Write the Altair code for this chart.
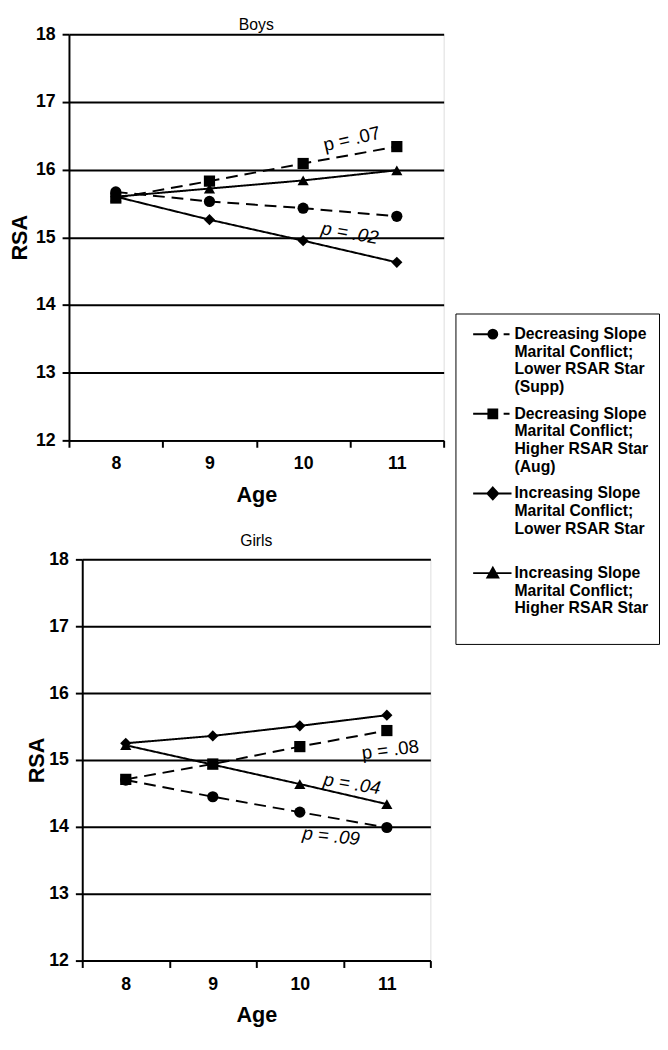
import altair as alt
import pandas as pd

# ---------------- data ----------------
ages = [8, 9, 10, 11]
series = [
    "Decreasing Slope|Marital Conflict;|Lower RSAR Star|(Supp)",
    "Decreasing Slope|Marital Conflict;|Higher RSAR Star|(Aug)",
    "Increasing Slope|Marital Conflict;|Lower RSAR Star| ",
    "Increasing Slope|Marital Conflict;|Higher RSAR Star| ",
]
boys_dec_lower = [15.67, 15.53, 15.43, 15.31]
boys_dec_higher = [15.58, 15.83, 16.09, 16.34]
boys_inc_lower = [15.60, 15.26, 14.95, 14.63]
boys_inc_higher = [15.60, 15.72, 15.84, 15.99]

girls_dec_lower = [14.70, 14.45, 14.22, 13.99]
girls_dec_higher = [14.71, 14.94, 15.20, 15.44]
girls_inc_lower = [15.25, 15.36, 15.51, 15.67]
girls_inc_higher = [15.22, 14.93, 14.64, 14.34]

boys_p_text = ["p = .07", "p = .02"]
boys_p_age = [10.52, 10.50]
boys_p_rsa = [16.45, 15.06]

girls_p_text = ["p = .08", "p = .04", "p = .09"]
girls_p_age = [11.04, 10.60, 10.36]
girls_p_rsa = [15.15, 14.64, 13.86]

y_ticks = [12, 13, 14, 15, 16, 17, 18]

# ---------------- styles ----------------
FONT = "Liberation Sans"
shapes = ["circle", "square", "diamond", "triangle-up"]
dashes = [[12, 7], [12, 7], [1, 0], [1, 0]]
boys_p_style = [(347, "normal"), (10, "italic")]
girls_p_style = [(353, "normal"), (9, "italic"), (6, "italic")]

legend_paths = [
    "M-0.3,0H1.7M2.8,0H3.4M1.25,0A0.45,0.45 0 1,1 2.15,0A0.45,0.45 0 1,1 1.25,0Z",
    "M-0.3,0H1.7M2.8,0H3.4M1.25,-0.45H2.15V0.45H1.25Z",
    "M-0.3,0H3.6M1.7,-0.6L2.25,0L1.7,0.6L1.15,0Z",
    "M-0.3,0H3.6M1.7,-0.55L2.25,0.45H1.15Z",
]
paths_js = "[" + ",".join("'" + p + "'" for p in legend_paths) + "]"
series_js = "[" + ",".join("'" + s + "'" for s in series) + "]"
shape_expr = paths_js + "[indexof(" + series_js + ", datum.value)]"

legend = alt.Legend(
    orient="none", legendX=393, legendY=284, title=None,
    labelExpr="split(datum.label, '|')",
    labelFont=FONT, labelFontSize=16, labelFontWeight="bold", labelColor="black",
    labelOffset=28, labelLimit=400,
    symbolType=alt.ExprRef(shape_expr),
    symbolSize=400, symbolStrokeWidth=2, symbolStrokeColor="black",
    symbolFillColor="black", symbolOpacity=1,
    padding=10, strokeColor="black", rowPadding=8,
)


def long_df(vals_list):
    rows = []
    for s, vals in zip(series, vals_list):
        for a, v in zip(ages, vals):
            rows.append({"age": a, "rsa": v, "series": s})
    return pd.DataFrame(rows)


def panel(vals_list, title, w, h, p_text, p_age, p_rsa, p_style, title_offset, title_pad, leg):
    df = long_df(vals_list)
    xenc = alt.X(
        "age:O",
        bandPosition=0.5,
        scale=alt.Scale(type="band", paddingInner=0, paddingOuter=0),
        axis=alt.Axis(
            title="Age", labelAngle=0, tickBand="extent", grid=False,
            tickSize=7, tickWidth=2, tickColor="black",
            domainColor="black", domainWidth=2,
            labelFont=FONT, labelFontSize=18, labelFontWeight="bold", labelColor="black",
            labelPadding=8, titleFont=FONT, titleFontSize=22, titleFontWeight="bold",
            titleColor="black", titlePadding=12,
        ),
    )
    yenc = alt.Y(
        "rsa:Q",
        scale=alt.Scale(domain=[12, 18], nice=False, zero=False),
        axis=alt.Axis(
            values=y_ticks, format="d", title="RSA", grid=True, gridColor="black", gridWidth=2,
            gridOpacity=1, tickSize=7, tickWidth=2, tickColor="black",
            domainColor="black", domainWidth=2,
            labelFont=FONT, labelFontSize=18, labelFontWeight="bold", labelColor="black",
            labelPadding=7, titleFont=FONT, titleFontSize=22, titleFontWeight="bold",
            titleColor="black", titlePadding=title_pad,
        ),
    )
    lines = alt.Chart(df).mark_line(color="black", strokeWidth=2).encode(
        x=xenc, y=yenc,
        strokeDash=alt.StrokeDash("series:N", scale=alt.Scale(domain=series, range=dashes), legend=None),
        detail="series:N",
    )
    points = alt.Chart(df).mark_point(filled=True, size=130, opacity=1).encode(
        x=xenc, y=yenc,
        shape=alt.Shape("series:N", scale=alt.Scale(domain=series, range=shapes), legend=None),
        color=alt.Color("series:N", scale=alt.Scale(domain=series, range=["black"] * 4), legend=leg),
    )
    base = alt.layer(lines, points)
    texts = []
    for t, a, r, (ang, fs) in zip(p_text, p_age, p_rsa, p_style):
        tdf = pd.DataFrame({"age": [a], "rsa": [r], "label": [t]})
        texts.append(
            alt.Chart(tdf).mark_text(
                font=FONT, fontSize=19, fontStyle=fs, angle=ang, color="black",
                align="center", baseline="middle",
            ).encode(
                x=alt.X("age:Q", scale=alt.Scale(domain=[7.5, 11.5], nice=False, zero=False), axis=None),
                y=alt.Y("rsa:Q"),
                text="label:N",
            )
        )
    return alt.layer(base, *texts).resolve_scale(x="independent").properties(
        width=w, height=h,
        title=alt.TitleParams(title, font=FONT, fontSize=16, fontWeight="normal",
                              color="black", offset=title_offset, anchor="middle"),
    )


boys = panel([boys_dec_lower, boys_dec_higher, boys_inc_lower, boys_inc_higher],
             "Boys", 381, 413, boys_p_text, boys_p_age, boys_p_rsa, boys_p_style, -8, 4, legend)
girls = panel([girls_dec_lower, girls_dec_higher, girls_inc_lower, girls_inc_higher],
              "Girls", 354, 408, girls_p_text, girls_p_age, girls_p_rsa, girls_p_style, 2, 0, None)

chart = alt.vconcat(boys, girls, spacing=121, center=True, bounds="flush").resolve_scale(
    color="independent"
).properties(
    padding={"left": 0, "top": 0, "right": 0, "bottom": 0}
).configure_view(stroke="black", strokeWidth=2).configure(background="white")

chart.save("out.html", embed_options={"renderer": "svg", "actions": False})
